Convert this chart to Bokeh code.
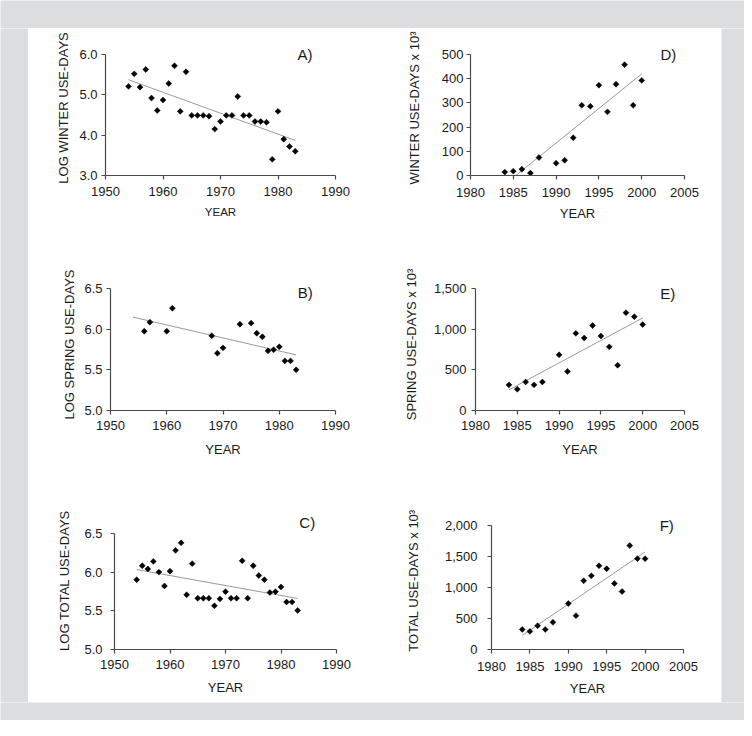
import math
from bokeh.plotting import figure
from bokeh.models import Range1d, FixedTicker, NumeralTickFormatter, Label
from bokeh.layouts import row, column
from bokeh.embed import file_html
from bokeh.resources import INLINE

# ---------------- data ----------------
years_early = [1954, 1955, 1956, 1957, 1958, 1959, 1960, 1961, 1962, 1963,
               1964, 1965, 1966, 1967, 1968, 1969, 1970, 1971, 1972, 1973,
               1974, 1975, 1976, 1977, 1978, 1979, 1980, 1981, 1982, 1983]
log_winter = [5.21, 5.52, 5.19, 5.63, 4.92, 4.61, 4.87, 5.28, 5.72, 4.59,
              5.57, 4.49, 4.49, 4.49, 4.47, 4.15, 4.34, 4.49, 4.49, 4.96,
              4.49, 4.49, 4.34, 4.34, 4.32, 3.40, 4.59, 3.90, 3.72, 3.60]
trend_winter_x = [1954, 1983]
trend_winter_y = [5.375, 3.87]

years_spring = [1956, 1957, 1960, 1961, 1968, 1969, 1970, 1973, 1975, 1976,
                1977, 1978, 1979, 1980, 1981, 1982, 1983]
log_spring = [5.975, 6.086, 5.975, 6.258, 5.918, 5.705, 5.77, 6.061, 6.074,
              5.95, 5.906, 5.734, 5.746, 5.783, 5.61, 5.61, 5.50]
trend_spring_x = [1954, 1983]
trend_spring_y = [6.148, 5.684]

log_total = [5.906, 6.086, 6.045, 6.143, 6.004, 5.824, 6.016, 6.286, 6.384, 5.71,
             6.114, 5.665, 5.665, 5.665, 5.567, 5.657, 5.75, 5.665, 5.665, 6.151,
             5.665, 6.086, 5.959, 5.906, 5.739, 5.75, 5.812, 5.616, 5.616, 5.506]
trend_total_x = [1954, 1983]
trend_total_y = [6.037, 5.662]

years_recent = [1984, 1985, 1986, 1987, 1988, 1990, 1991, 1992, 1993, 1994,
                1995, 1996, 1997, 1998, 1999, 2000]
winter_k = [14, 18, 26, 10, 74, 51, 63, 156, 290, 286, 373, 263, 377, 458, 290, 393]
trend_wk_x = [1985.3, 2000]
trend_wk_y = [0, 420]
spring_k = [315, 262, 351, 315, 351, 685, 480, 948, 891, 1044, 915, 782, 556, 1202, 1153, 1056]
trend_sk_x = [1984, 2000]
trend_sk_y = [254, 1137]
total_k = [324, 292, 384, 324, 438, 741, 546, 1108, 1189, 1351, 1303, 1065, 935, 1676, 1465, 1465]
trend_tk_x = [1984, 2000]
trend_tk_y = [227, 1573]

xticks_early = [1950, 1960, 1970, 1980, 1990]
xticks_recent = [1980, 1985, 1990, 1995, 2000, 2005]
yticks_a = [3.0, 4.0, 5.0, 6.0]
yticks_bc = [5.0, 5.5, 6.0, 6.5]
yticks_d = [0, 100, 200, 300, 400, 500]
yticks_e = [0, 500, 1000, 1500]
yticks_f = [0, 500, 1000, 1500, 2000]

FONT = "Liberation Sans"
AXIS_COLOR = "#4a4a4a"
GRAY = "#dcdddf"


def panel(w, h, borders, ext, xr, yr, xticks, yticks, yfmt, xs, ys, tx, ty,
          ylabel, letter, letter_xy, stand, xlabel_size="13px"):
    bl, br, bt, bb = borders
    fh = h - bt - bb
    y_end = yr[1] + ext * (yr[1] - yr[0]) / fh
    p = figure(width=w, height=h, output_backend="svg", toolbar_location=None,
               x_range=Range1d(*xr), y_range=Range1d(yr[0], y_end),
               min_border_left=bl, min_border_right=br,
               min_border_top=bt - ext, min_border_bottom=bb)
    p.outline_line_color = None
    p.background_fill_color = "white"
    p.border_fill_color = "white"
    p.grid.visible = False
    ylab_std, ytick_std, xtick_std, xlab_std = stand
    for ax in (p.xaxis[0], p.yaxis[0]):
        ax.axis_line_color = AXIS_COLOR
        ax.axis_line_width = 1.2
        ax.major_tick_line_color = AXIS_COLOR
        ax.major_tick_line_width = 1.2
        ax.major_tick_out = 4
        ax.major_tick_in = 0
        ax.minor_tick_line_color = None
        ax.major_label_text_font = FONT
        ax.major_label_text_font_size = "13px"
        ax.major_label_text_color = "#1a1a1a"
        ax.axis_label_text_font = FONT
        ax.axis_label_text_font_style = "normal"
        ax.axis_label_text_color = "#1a1a1a"
    p.yaxis.bounds = (yr[0], yr[1])
    p.xaxis.ticker = FixedTicker(ticks=xticks)
    p.yaxis.ticker = FixedTicker(ticks=yticks)
    p.yaxis.formatter = NumeralTickFormatter(format=yfmt)
    p.xaxis.axis_label = "YEAR"
    p.xaxis.axis_label_text_font_size = xlabel_size
    p.yaxis.axis_label = ylabel
    p.yaxis.axis_label_text_font_size = "13px"
    p.yaxis.axis_label_standoff = ylab_std
    p.yaxis.major_label_standoff = ytick_std
    p.xaxis.major_label_standoff = xtick_std
    p.xaxis.axis_label_standoff = xlab_std
    p.line(tx, ty, line_color="#9a9a9a", line_width=1)
    p.scatter(xs, ys, marker="square", angle=math.pi / 4, size=4.2,
              fill_color="black", line_color="black", line_width=0.5)
    p.add_layout(Label(x=letter_xy[0], y=letter_xy[1], text=letter,
                       text_font=FONT, text_font_size="15px", text_color="#1a1a1a",
                       text_align="left", text_baseline="middle"))
    return p


pa = panel(334, 229, (77, 27, 26, 82), 14, (1950, 1990), (3.0, 6.0), xticks_early, yticks_a, "0.0",
           years_early, log_winter, trend_winter_x, trend_winter_y,
           "LOG WINTER USE-DAYS", "A)", (1983.4, 6.0), (5, 4, 7, 7), xlabel_size="11.5px")
pd_ = panel(359, 229, (108, 37, 26, 82), 14, (1980, 2005), (0, 500), xticks_recent, yticks_d, "0",
            years_recent, winter_k, trend_wk_x, trend_wk_y,
            "WINTER USE-DAYS x 10³", "D)", (2002.2, 500), (17, 3, 8, 6))
pb = panel(334, 222, (82, 27, 31, 69), 10, (1950, 1990), (5.0, 6.5), xticks_early, yticks_bc, "0.0",
           years_spring, log_spring, trend_spring_x, trend_spring_y,
           "LOG SPRING USE-DAYS", "B)", (1983.3, 6.447), (4, 4, 6, 9))
pe = panel(359, 222, (113, 37, 30, 69), 10, (1980, 2005), (0, 1500), xticks_recent, yticks_e, "0,0",
           years_recent, spring_k, trend_sk_x, trend_sk_y,
           "SPRING USE-DAYS x 10³", "E)", (2002.1, 1435), (12, 5, 6, 9))
pc = panel(334, 223, (86, 26, 48, 51), 24, (1950, 1990), (5.0, 6.5), xticks_early, yticks_bc, "0.0",
           years_early, log_total, trend_total_x, trend_total_y,
           "LOG TOTAL USE-DAYS", "C)", (1983.3, 6.645), (9, 8, 6, 8))
pf = panel(359, 223, (129, 38, 46, 53), 14, (1980, 2005), (0, 2000), xticks_recent, yticks_f, "0,0",
           years_recent, total_k, trend_tk_x, trend_tk_y,
           "TOTAL USE-DAYS x 10³", "F)", (2001.9, 2000), (21, 10, 8, 7))

inner = column(row(pa, pd_), row(pb, pe), row(pc, pf))


def strip(w, h):
    s = figure(width=w, height=h, output_backend="svg", toolbar_location=None,
               min_border=0, x_range=Range1d(0, 1), y_range=Range1d(0, 1))
    s.axis.visible = False
    s.grid.visible = False
    s.outline_line_color = None
    s.background_fill_color = GRAY
    s.border_fill_color = GRAY
    return s


page = column(
    strip(744, 28),
    row(strip(28, 674), inner, strip(23, 674)),
    strip(744, 18),
)

open("out.html", "w").write(file_html(page, INLINE))
